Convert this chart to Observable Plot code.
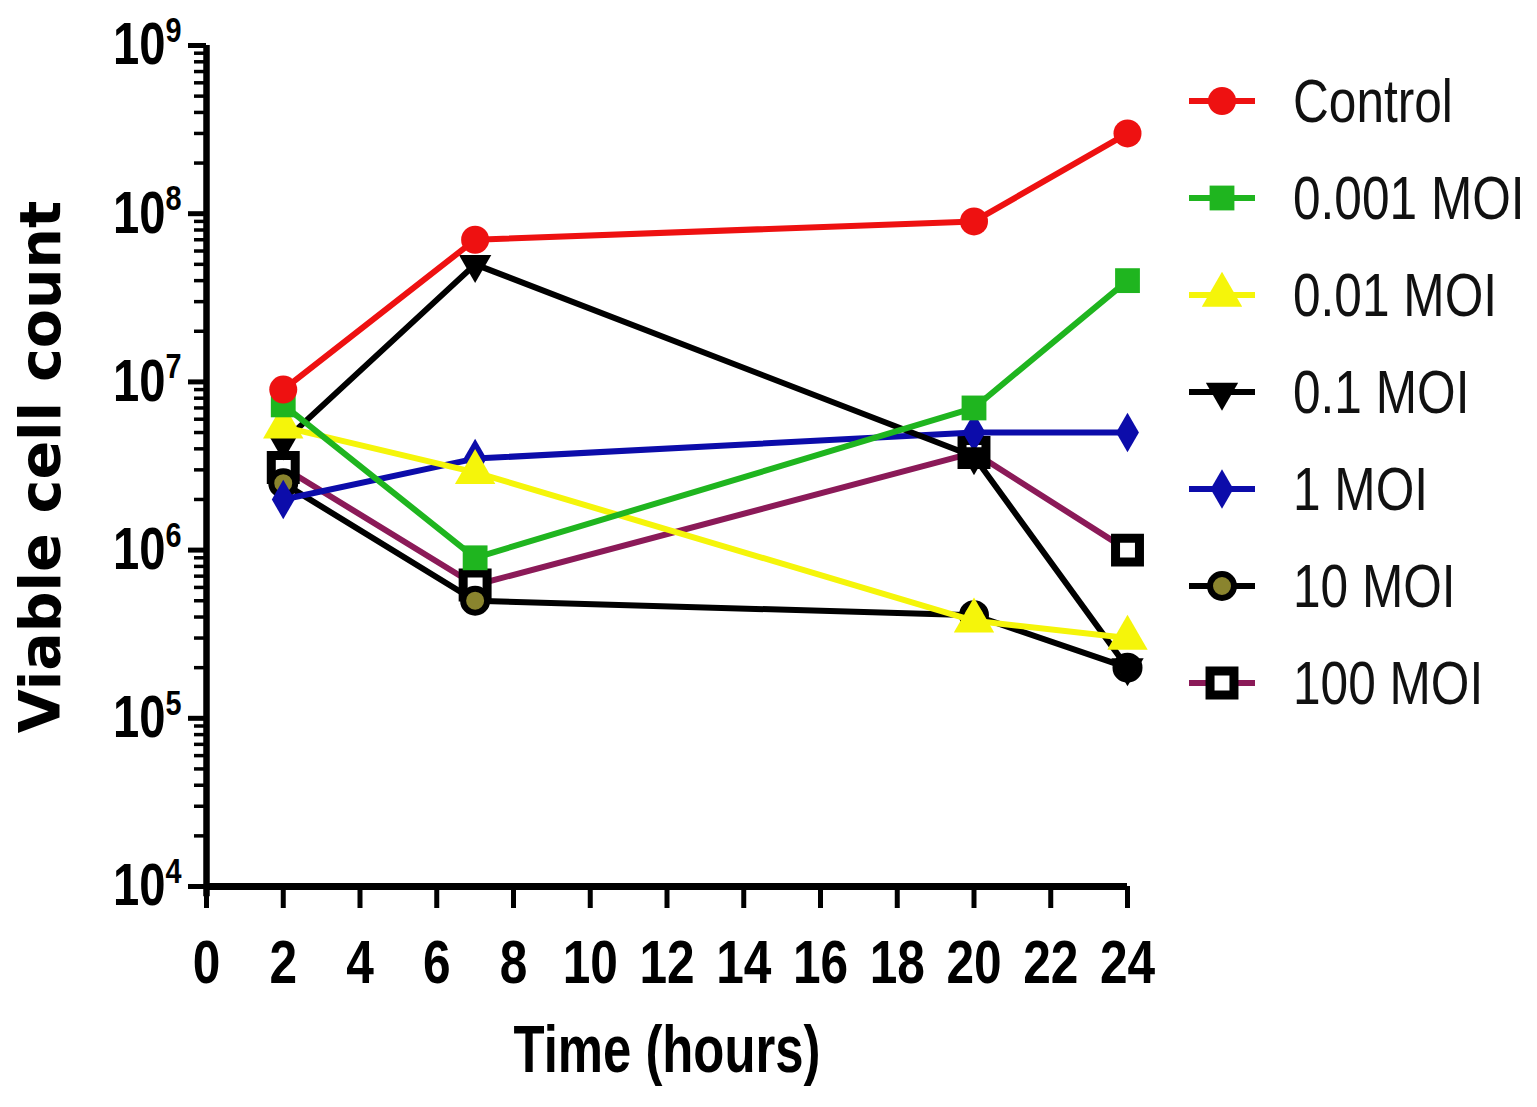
<!DOCTYPE html>
<html>
<head>
<meta charset="utf-8">
<script src="https://cdn.jsdelivr.net/npm/d3@7"></script>
<script src="https://cdn.jsdelivr.net/npm/@observablehq/plot@0.6"></script>
<style>
  html, body { margin: 0; padding: 0; background: #fff; }
  #wrap { position: relative; width: 1537px; height: 1107px; overflow: hidden; background: #fff; }
  #legend { position: absolute; left: 1185px; top: 52px; }
  .row { display: flex; align-items: center; height: 97px; white-space: nowrap; }
  .row span { display: inline-block; font-family: "Liberation Sans", Arial, sans-serif; font-size: 62px; color: #111; margin-left: 34px; line-height: 1; transform: scaleX(0.8); transform-origin: left center; white-space: nowrap; }
</style>
</head>
<body>
<div id="wrap"></div>
<script>
// ---- data ----
const times = [2, 7, 20, 24];
const seriesNames = ["Control", "0.001 MOI", "0.01 MOI", "0.1 MOI", "1 MOI", "10 MOI", "100 MOI"];
const control = [9e6, 7e7, 9e7, 3e8];
const moi0001 = [7.3e6, 9e5, 7e6, 4e7];
const moi001  = [5.4e6, 2.9e6, 3.8e5, 3e5];
const moi01   = [4.4e6, 5e7, 3.6e6, 2e5];
const moi1    = [2e6, 3.5e6, 5e6, 5e6];
const moi10   = [2.5e6, 5e5, 4.1e5, 2e5];
const moi100  = [3.1e6, 6.2e5, 3.8e6, 1e6];
const xTicks = [0, 2, 4, 6, 8, 10, 12, 14, 16, 18, 20, 22, 24];
const yMajorTicks = [1e4, 1e5, 1e6, 1e7, 1e8, 1e9];
const yTickLabels = ["10^4", "10^5", "10^6", "10^7", "10^8", "10^9"];

// ---- styles ----
const triDown = {
  draw(ctx, size) {
    const y = -Math.sqrt(size / (Math.sqrt(3) * 3));
    ctx.moveTo(0, -y * 2);
    ctx.lineTo(-Math.sqrt(3) * y, y);
    ctx.lineTo(Math.sqrt(3) * y, y);
    ctx.closePath();
  }
};
const styles = [
  {line: "#ee1111", symbol: "circle",   r: 14, fill: "#ee1111", stroke: "none", sw: 0},
  {line: "#1fb51f", symbol: "square",   r: 14, fill: "#1fb51f", stroke: "none", sw: 0},
  {line: "#f5f50a", symbol: "triangle", r: 15, fill: "#f5f50a", stroke: "none", sw: 0},
  {line: "#000000", symbol: triDown,    r: 12, fill: "#000000", stroke: "none", sw: 0},
  {line: "#0c0caa", symbol: "diamond",  r: 12, fill: "#0c0caa", stroke: "none", sw: 0},
  {line: "#000000", symbol: "circle",   r: 12, fill: "#8a842e", stroke: "#000", sw: 6},
  {line: "#8b1a58", symbol: "square",   r: 13.5, fill: "#ffffff", stroke: "#000", sw: 9}
];
const values = [control, moi0001, moi001, moi01, moi1, moi10, moi100];

const minorTicks = [];
for (let k = 4; k < 9; k++) for (let m = 2; m <= 9; m++) minorTicks.push(m * Math.pow(10, k));

const seriesData = seriesNames.map((name, i) => times.map((t, j) => ({time: t, value: values[i][j], series: name})));

const marks = [];
// draw last series first so the first series lies on top
for (let i = seriesNames.length - 1; i >= 0; i--) {
  const s = styles[i];
  marks.push(Plot.line(seriesData[i], {x: "time", y: "value", stroke: s.line, strokeWidth: 6}));
  marks.push(Plot.dot(seriesData[i], {x: "time", y: "value", symbol: () => s.symbol, r: s.r, fill: s.fill, stroke: s.stroke, strokeWidth: s.sw}));
}

const chart = Plot.plot({
  width: 1537, height: 1107,
  marginLeft: 206, marginRight: 410, marginTop: 45, marginBottom: 221,
  style: {background: "white", overflow: "visible"},
  x: {domain: [0, 24]},
  y: {type: "log", domain: [1e4, 1e9]},
  marks: [
    Plot.axisY({ticks: minorTicks, tickSize: 12, strokeWidth: 3.5, tickFormat: () => "", label: null}),
    Plot.axisY({ticks: yMajorTicks, tickSize: 18, strokeWidth: 5, tickPadding: 7,
      tickFormat: (d) => yTickLabels[yMajorTicks.indexOf(d)], fontSize: 59, fontWeight: "bold",
      fontFamily: "Liberation Sans, Arial, sans-serif", label: null}),
    Plot.axisX({ticks: xTicks, tickSize: 22, strokeWidth: 5, tickPadding: 30, fontSize: 62, fontWeight: "bold",
      fontFamily: "Liberation Sans, Arial, sans-serif", label: null}),
    Plot.ruleX([0], {y1: 1e9, y2: 8.7e3, strokeWidth: 6.5, stroke: "#000"}),
    Plot.ruleY([1e4], {x1: 0, x2: 24, strokeWidth: 7, stroke: "#000"}),
    ...marks
  ]
});

document.getElementById("wrap").appendChild(chart);

const svg = d3.select(chart);
// condense tick labels (narrow bold look) and add superscripts
svg.selectAll('g[aria-label="x-axis tick label"] text, g[aria-label="y-axis tick label"] text').each(function () {
  const tr = this.getAttribute("transform") || "";
  this.setAttribute("transform", tr + " scale(0.8,1)");
  const t = this.textContent;
  if (t && t.indexOf("^") > 0) {
    const [base, exp] = t.split("^");
    const el = d3.select(this);
    el.text(null);
    el.append("tspan").text(base);
    el.append("tspan").attr("font-size", 36).attr("dy", "-0.62em").text(exp);
  }
});

// axis titles
svg.append("text")
  .attr("transform", "translate(40,467) rotate(-90)")
  .attr("text-anchor", "middle").attr("dominant-baseline", "central")
  .attr("font-family", "DejaVu Sans, sans-serif").attr("font-weight", "bold").attr("font-size", 57)
  .attr("fill", "#000").text("Viable cell count");
svg.append("text")
  .attr("transform", "translate(667,1072) scale(0.77,1)")
  .attr("text-anchor", "middle")
  .attr("font-family", "Liberation Sans, Arial, sans-serif").attr("font-weight", "bold").attr("font-size", 66)
  .attr("fill", "#000").text("Time (hours)");

// legend
const legend = d3.select("#wrap").append("div").attr("id", "legend");
seriesNames.forEach((name, i) => {
  const s = styles[i];
  const row = legend.append("div").attr("class", "row");
  const sv = row.append("svg").attr("width", 74).attr("height", 60);
  sv.append("line").attr("x1", 4).attr("x2", 70).attr("y1", 30).attr("y2", 30)
    .attr("stroke", s.line).attr("stroke-width", 6);
  const sym = typeof s.symbol === "string"
    ? {circle: d3.symbolCircle, square: d3.symbolSquare, triangle: d3.symbolTriangle, diamond: d3.symbolDiamond}[s.symbol]
    : s.symbol;
  sv.append("path").attr("transform", "translate(37,30)")
    .attr("d", d3.symbol(sym, Math.PI * s.r * s.r)())
    .attr("fill", s.fill).attr("stroke", s.stroke === "none" ? null : s.stroke).attr("stroke-width", s.sw);
  row.append("span").text(name);
});
</script>
</body>
</html>
